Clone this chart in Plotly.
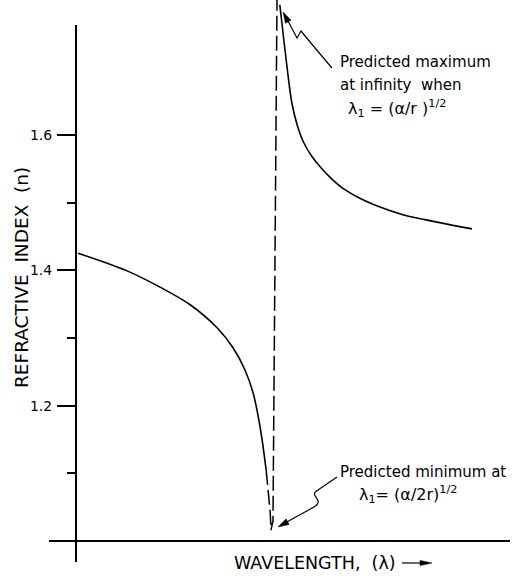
import math
import plotly.graph_objects as go

# ---- data ----
lam_left = [0.05, 1.27, 2.09, 2.84, 3.51, 3.91, 4.20, 4.40, 4.58, 4.73]
n_left = [1.425, 1.399, 1.375, 1.349, 1.315, 1.285, 1.253, 1.220, 1.168, 1.105]
lam_dash = [4.73, 4.78, 4.83, 4.85, 4.90, 5.00]
n_dash = [1.105, 1.075, 1.043, 1.016, 1.030, 1.80]
lam_right = [5.07, 5.17, 5.27, 5.37, 5.50, 5.66, 5.87, 6.10, 6.36, 6.66, 7.00, 7.40, 8.13, 8.98, 9.85]
n_right = [1.792, 1.740, 1.690, 1.647, 1.615, 1.589, 1.568, 1.551, 1.535, 1.520, 1.508, 1.497, 1.482, 1.471, 1.461]
major_ticks = [1.2, 1.4, 1.6]
minor_ticks = [1.1, 1.3, 1.5]

W, H = 513, 576
X0PX, XSCALE = 76, 40.2      # px of lambda=0, px per lambda unit
Y1PX, YSCALE = 541, 677      # px of n=1.0, px per n unit
FONT = "DejaVu Sans"


def lam(px):
    return (px - X0PX) / XSCALE


def nval(py):
    return 1.0 + (Y1PX - py) / YSCALE


def P(px, py):
    return px / W, 1 - py / H


def path(pts, close=False):
    out = []
    for cmd, coords in pts:
        s = []
        for (a, b) in coords:
            x, y = P(a, b)
            s.append(f"{x:.5f},{y:.5f}")
        out.append(cmd + " ".join(s))
    return " ".join(out) + (" Z" if close else "")


def head(tip, frm, length=11, half=3.2):
    dx, dy = tip[0] - frm[0], tip[1] - frm[1]
    d = math.hypot(dx, dy)
    ux, uy = dx / d, dy / d
    bx, by = tip[0] - ux * length, tip[1] - uy * length
    p1 = (bx - uy * half, by + ux * half)
    p2 = (bx + uy * half, by - ux * half)
    return dict(type="path", xref="paper", yref="paper",
                path=path([("M", [tip]), ("L", [p1]), ("L", [p2])], close=True),
                fillcolor="black", line=dict(color="black", width=0.5))


fig = go.Figure()
line = dict(color="black", width=1.6)
fig.add_trace(go.Scatter(x=lam_left, y=n_left, mode="lines", line=dict(line, shape="spline"),
                         hoverinfo="skip", showlegend=False))
fig.add_trace(go.Scatter(x=lam_dash, y=n_dash, mode="lines",
                         line=dict(color="black", width=1.5, dash="15px,5px"),
                         hoverinfo="skip", showlegend=False))
fig.add_trace(go.Scatter(x=lam_right, y=n_right, mode="lines", line=dict(line, shape="spline"),
                         hoverinfo="skip", showlegend=False))

shapes = [
    # axis lines
    dict(type="line", xref="x", yref="y", x0=0, x1=0, y0=nval(562), y1=nval(25),
         line=dict(color="black", width=2)),
    dict(type="line", xref="x", yref="y", x0=lam(49), x1=lam(510), y0=1.0, y1=1.0,
         line=dict(color="black", width=2)),
    # leader lines
    dict(type="path", xref="paper", yref="paper",
         path=path([("M", [(332, 68)]), ("Q", [(314, 47), (301, 31)]), ("L", [(297, 38)]),
                    ("L", [(288, 21)])]),
         line=dict(color="black", width=1.2)),
    dict(type="path", xref="paper", yref="paper",
         path=path([("M", [(337, 477)]), ("L", [(318, 490)]),
                    ("C", [(307, 496), (326, 499), (314, 507)]), ("L", [(285, 523)])]),
         line=dict(color="black", width=1.2)),
    # x-title arrow
    dict(type="line", xref="paper", yref="paper",
         x0=P(402, 563)[0], x1=P(424, 563)[0], y0=P(402, 563)[1], y1=P(424, 563)[1],
         line=dict(color="black", width=1.2)),
    head((283, 12), (297, 38)),
    head((278, 527), (314, 507)),
    head((432, 563), (400, 563), length=12, half=2.6),
]

ann = []


def text(px, py, s, size=15, **kw):
    x, y = P(px, py)
    d = dict(x=x, y=y, xref="paper", yref="paper", text=s, showarrow=False,
             xanchor="left", yanchor="middle", font=dict(family=FONT, size=size, color="black"))
    d.update(kw)
    ann.append(d)


text(338, 62, "Predicted maximum")
text(338, 85, "at infinity  when")
text(346, 108, "λ<sub>1</sub> = (α/r )<sup>1/2</sup>", size=16)
text(338, 472, "Predicted minimum at")
text(357, 494, "λ<sub>1</sub>= (α/2r)<sup>1/2</sup>", size=16)
text(232, 563, "WAVELENGTH,  (λ)", size=17.5)
text(21, 278, "REFRACTIVE  INDEX  (n)", size=18.5, textangle=-90, xanchor="center")

fig.update_layout(
    width=W, height=H, template="none",
    margin=dict(l=0, r=0, t=0, b=0),
    paper_bgcolor="white", plot_bgcolor="white",
    shapes=shapes, annotations=ann, showlegend=False,
    xaxis=dict(range=[lam(0), lam(W)], visible=False, fixedrange=True),
    yaxis=dict(range=[nval(H), nval(0)], anchor="free", position=X0PX / W,
               showline=False, showgrid=False, zeroline=False, automargin=False,
               tickmode="array", tickvals=major_ticks, ticktext=[f"{v:.1f}" for v in major_ticks],
               ticks="outside", ticklen=19, tickwidth=1.5, tickcolor="black",
               ticklabelstandoff=2,
               tickfont=dict(family=FONT, size=14, color="black"),
               minor=dict(tickmode="array", tickvals=minor_ticks, ticks="outside",
                          ticklen=9, tickwidth=1.5, tickcolor="black", showgrid=False),
               fixedrange=True),
)

fig.write_html("out.html", config={"displayModeBar": False},
               post_script="document.body.style.margin='0px';document.body.style.overflow='hidden';")
